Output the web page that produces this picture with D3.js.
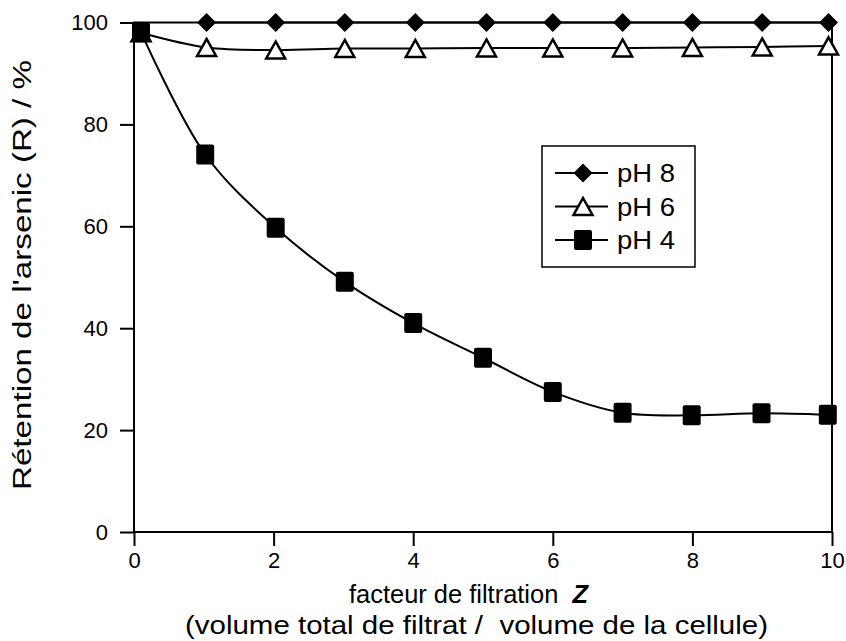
<!DOCTYPE html>
<html lang="fr">
<head>
<meta charset="UTF-8">
<title>Rétention de l'arsenic</title>
<script src="https://d3js.org/d3.v7.min.js"></script>
<style>
  html, body { margin: 0; padding: 0; background: #fff; }
  svg { display: block; font-family: 'Liberation Sans', Arial, sans-serif; }
  .axis-title { font-size: 25px; fill: #000; white-space: pre; }
  .legend-label { font-size: 25px; fill: #000; }
</style>
</head>
<body>
<div id="chart"></div>
<script>
// ---- data ----
var zPH8 = [1.04, 2.03, 3.02, 4.03, 5.05, 6, 7, 8, 9, 9.95];
var rPH8 = [100, 100, 100, 100, 100, 100, 100, 100, 100, 100];

var zPH6 = [0.1, 1.04, 2.03, 3.02, 4.03, 5.05, 6, 7, 8, 9, 9.95];
var rPH6 = [98, 95.1, 94.6, 94.9, 94.9, 95, 95, 95, 95.1, 95.2, 95.4];

var zPH4 = [0.1, 1.02, 2.03, 3.02, 4.0, 5.0, 6.0, 7.0, 7.99, 8.99, 9.94];
var rPH4 = [98.1, 74.1, 59.7, 49.1, 41.0, 34.2, 27.5, 23.4, 22.9, 23.3, 23.0];

var xTicks = [0, 2, 4, 6, 8, 10];
var yTicks = [0, 20, 40, 60, 80, 100];
var seriesNames = ['pH 8', 'pH 6', 'pH 4'];

var width = 846, height = 641;
var margin = {left: 134, right: 14, top: 22.5, bottom: 109};

var svg = d3.select('#chart').append('svg')
  .attr('width', width)
  .attr('height', height);

var x = d3.scaleLinear().domain([0, 10]).range([margin.left, width - margin.right]);
var y = d3.scaleLinear().domain([0, 100]).range([height - margin.bottom, margin.top]);

// frame
svg.append('rect')
  .attr('x', x(0)).attr('y', y(100))
  .attr('width', x(10) - x(0)).attr('height', y(0) - y(100))
  .attr('fill', 'none').attr('stroke', '#000').attr('stroke-width', 2);

// axes
var xAxis = svg.append('g')
  .attr('transform', 'translate(0,' + y(0) + ')')
  .call(d3.axisBottom(x).tickValues(xTicks).tickSize(14).tickPadding(6).tickFormat(d3.format('d')));
var yAxis = svg.append('g')
  .attr('transform', 'translate(' + x(0) + ',0)')
  .call(d3.axisLeft(y).tickValues(yTicks).tickSize(14).tickPadding(12).tickFormat(d3.format('d')));

[xAxis, yAxis].forEach(function(a) {
  a.attr('font-family', null);
  a.select('.domain').remove();
  a.selectAll('.tick line').attr('stroke', '#000').attr('stroke-width', 2);
  a.selectAll('.tick text').attr('fill', '#000').style('font-size', '22px');
});

// series lines
var smooth = d3.line()
  .x(function(d) { return x(d[0]); })
  .y(function(d) { return y(d[1]); })
  .curve(d3.curveCatmullRom.alpha(0.5));

function pairs(xs, ys) { return xs.map(function(v, i) { return [v, ys[i]]; }); }

var d8 = pairs(zPH8, rPH8), d6 = pairs(zPH6, rPH6), d4 = pairs(zPH4, rPH4);

svg.append('path').attr('d', smooth(d6)).attr('fill', 'none').attr('stroke', '#000').attr('stroke-width', 2);
svg.append('path').attr('d', smooth(d8)).attr('fill', 'none').attr('stroke', '#000').attr('stroke-width', 2);
svg.append('path').attr('d', smooth(d4)).attr('fill', 'none').attr('stroke', '#000').attr('stroke-width', 2);

// marker helpers
var diamond = 'M0,-9.5L9.5,0L0,9.5L-9.5,0Z';
var triangle = 'M0,-8.5L9.5,8.5L-9.5,8.5Z';

function drawDiamond(g, cx, cy) {
  g.append('path').attr('d', diamond).attr('transform', 'translate(' + cx + ',' + cy + ')')
    .attr('fill', '#000');
}
function drawTriangle(g, cx, cy) {
  g.append('path').attr('d', triangle).attr('transform', 'translate(' + cx + ',' + cy + ')')
    .attr('fill', '#fff').attr('stroke', '#000').attr('stroke-width', 2.5).attr('stroke-linejoin', 'miter');
}
function drawSquare(g, cx, cy) {
  g.append('rect').attr('x', cx - 9).attr('y', cy - 10).attr('width', 18).attr('height', 20)
    .attr('rx', 2).attr('fill', '#000');
}

var marks = svg.append('g');
d6.forEach(function(d) { drawTriangle(marks, x(d[0]), y(d[1])); });
d8.forEach(function(d) { drawDiamond(marks, x(d[0]), y(d[1])); });
d4.forEach(function(d) { drawSquare(marks, x(d[0]), y(d[1])); });

// legend
var legend = svg.append('g');
legend.append('rect')
  .attr('x', 542).attr('y', 146).attr('width', 153).attr('height', 121)
  .attr('fill', '#fff').attr('stroke', '#000').attr('stroke-width', 1.5);
var drawers = [drawDiamond, drawTriangle, drawSquare];
seriesNames.forEach(function(name, i) {
  var ly = 173 + i * 33.5;
  legend.append('line').attr('x1', 555).attr('x2', 608).attr('y1', ly).attr('y2', ly)
    .attr('stroke', '#000').attr('stroke-width', 2);
  drawers[i](legend, 583, ly);
  legend.append('text').attr('class', 'legend-label')
    .attr('x', 617).attr('y', ly + 9)
    .attr('textLength', 58).attr('lengthAdjust', 'spacingAndGlyphs')
    .text(name);
});

// axis titles
var xt = svg.append('text').attr('class', 'axis-title')
  .attr('x', 349).attr('y', 603)
  .attr('textLength', 239).attr('lengthAdjust', 'spacingAndGlyphs');
xt.append('tspan').text('facteur de filtration  ');
xt.append('tspan').attr('font-weight', 'bold').attr('font-style', 'italic').text('Z');

svg.append('text').attr('class', 'axis-title')
  .attr('x', 185).attr('y', 634)
  .attr('textLength', 583).attr('lengthAdjust', 'spacingAndGlyphs')
  .text('(volume total de filtrat /  volume de la cellule)');

svg.append('text').attr('class', 'axis-title')
  .attr('transform', 'translate(31,490) rotate(-90)')
  .attr('textLength', 430).attr('lengthAdjust', 'spacingAndGlyphs')
  .text("Rétention de l'arsenic (R) / %");
</script>
</body>
</html>
